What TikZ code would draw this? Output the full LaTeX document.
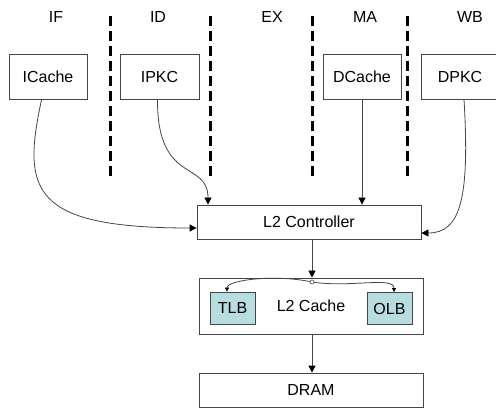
\documentclass[tikz,border=0pt]{standalone}
\usepackage{fontspec}
\setmainfont{Liberation Sans}
\usetikzlibrary{arrows.meta}
\definecolor{boxline}{RGB}{70,70,70}
\definecolor{bufill}{RGB}{184,221,224}
\begin{document}
\begin{tikzpicture}[x=1pt,y=-1pt,
  box/.style={draw=boxline,line width=0.8pt,fill=white,font=\fontsize{16}{18}\selectfont,inner sep=0pt},
  bufbox/.style={draw=boxline,line width=0.8pt,fill=bufill,font=\fontsize{16}{18}\selectfont,inner sep=0pt,minimum width=45pt,minimum height=32pt},
  stage/.style={font=\fontsize{16}{18}\selectfont,inner sep=0pt},
  divider/.style={line width=3pt,dash pattern=on 10pt off 5pt},
  conn/.style={line width=0.8pt,draw=boxline,-{Triangle[length=7pt,width=7pt,color=black]}},
  small/.style={line width=0.8pt,draw=boxline,-{Triangle[length=4pt,width=4pt,color=black]}}
]
\useasboundingbox[fill=white] (0,0) rectangle (496,409);
% stage labels
\node[stage] (if) at (56,17) {IF};
\node[stage] (id) at (158,17) {ID};
\node[stage] (ex) at (272,17) {EX};
\node[stage] (ma) at (365,17) {MA};
\node[stage] (wb) at (470,17) {WB};
% dividers
\coordinate (d1a) at (110,16); \coordinate (d1b) at (110,176);
\coordinate (d2a) at (210,16); \coordinate (d2b) at (210,176);
\coordinate (d3a) at (312,16); \coordinate (d3b) at (312,176);
\coordinate (d4a) at (407,16); \coordinate (d4b) at (407,176);
\draw[divider] (d1a) -- (d1b);
\draw[divider] (d2a) -- (d2b);
\draw[divider] (d3a) -- (d3b);
\draw[divider] (d4a) -- (d4b);
% top boxes
\node[box,minimum width=78pt,minimum height=45pt] (icache) at (48,76.5) {ICache};
\node[box,minimum width=79pt,minimum height=45pt] (ipkc) at (159.5,76.5) {IPKC};
\node[box,minimum width=78pt,minimum height=45pt] (dcache) at (362,76.5) {DCache};
\node[box,minimum width=78pt,minimum height=45pt] (dpkc) at (460,76.5) {DPKC};
% L2
\node[box,minimum width=224pt,minimum height=34pt] (ctrl) at (309,222) {L2 Controller};
\node[box,minimum width=224pt,minimum height=56pt] (l2) at (311,306) {};
\node[font=\fontsize{16}{18}\selectfont,inner sep=0pt] (l2lbl) at (311,306) {L2 Cache};
\node[bufbox] (tlb) at (232.5,308) {TLB};
\node[bufbox] (olb) at (389.5,308.5) {OLB};
\node[box,minimum width=224pt,minimum height=34pt] (dram) at (311,390) {DRAM};
% connectors
\draw[conn] (icache.south west) ++(33,0) coordinate (ic0)
  .. controls (22,190) and (30,228) .. (ctrl.west |- 0,228);
\draw[conn] ([xshift=-2pt]ipkc.south)
  .. controls (157,185) and (208,160) .. (ctrl.north west -| 208,0);
\draw[conn] (dcache.south) -- (dcache.south |- ctrl.north);
\draw[conn] ([xshift=4pt]dpkc.south)
  .. controls (470,200) and (460,233) .. (ctrl.east |- 0,233);
\draw[conn] (ctrl.south -| 312,0) -- (l2.north -| 312,0);
\coordinate (split) at (312,282);
\draw[small] (split) .. controls (275,274) and (227,280) .. (tlb.north -| 227,0);
\draw[small] (split) .. controls (350,288) and (394,276) .. (olb.north -| 394,0);
\draw[boxline,fill=white,line width=0.6pt] (split) circle (2pt);
\draw[conn] (l2.south -| 312,0) -- (dram.north -| 312,0);
\end{tikzpicture}
\end{document}
